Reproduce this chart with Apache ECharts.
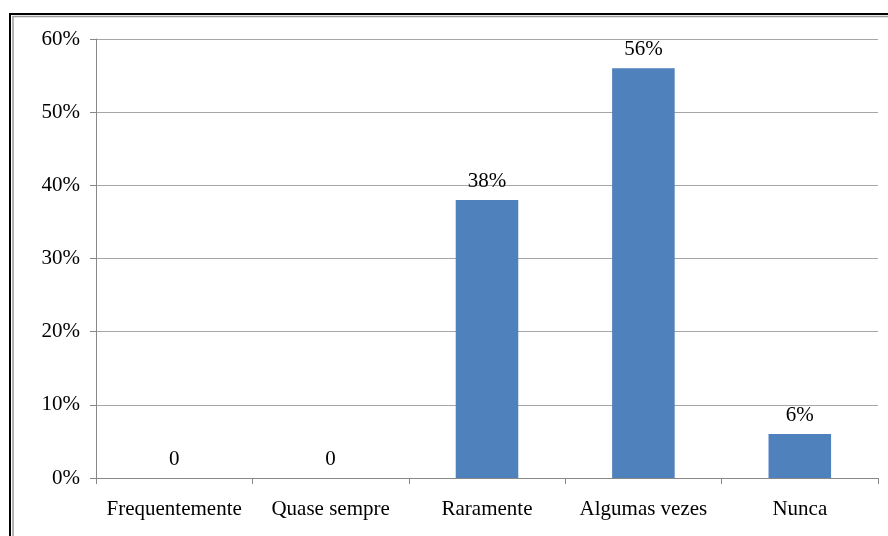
<!DOCTYPE html>
<html>
<head>
<meta charset="utf-8">
<script src="https://cdn.jsdelivr.net/npm/echarts@6/dist/echarts.min.js"></script>
<style>
  html, body { margin: 0; padding: 0; background: #fff; }
  #chart { width: 888px; height: 536px; }
</style>
</head>
<body>
<div id="chart"></div>
<script>
// Response categories and their share (%)
var categories = ['Frequentemente', 'Quase sempre', 'Raramente', 'Algumas vezes', 'Nunca'];
var percentages = [0, 0, 38, 56, 6];
var yTicks = [0, 10, 20, 30, 40, 50, 60];

var font = '"Liberation Serif", "Times New Roman", serif';
var chart = echarts.init(document.getElementById('chart'));

chart.setOption({
  animation: false,
  backgroundColor: '#ffffff',
  grid: { left: 96, right: 10, top: 39, bottom: 58 },
  graphic: [
    // outer frame: dark edge with a grey inner edge
    { type: 'rect', shape: { x: 10, y: 14, width: 900, height: 560 },
      style: { fill: 'none', stroke: '#000', lineWidth: 2 }, z: 10 },
    { type: 'rect', shape: { x: 13, y: 16.5, width: 900, height: 560 },
      style: { fill: 'none', stroke: '#9a9a9a', lineWidth: 1.5 }, z: 10 }
  ],
  xAxis: {
    type: 'category',
    data: categories,
    axisLine: { lineStyle: { color: '#888', width: 1 } },
    axisTick: { show: true, alignWithLabel: false, length: 6, lineStyle: { color: '#888' } },
    axisLabel: { color: '#000', fontFamily: font, fontSize: 21, margin: 21, interval: 0 }
  },
  yAxis: {
    type: 'value',
    min: yTicks[0],
    max: yTicks[yTicks.length - 1],
    interval: 10,
    axisLine: { show: true, lineStyle: { color: '#888', width: 1 } },
    axisTick: { show: true, length: 6, lineStyle: { color: '#888' } },
    axisLabel: { color: '#000', fontFamily: font, fontSize: 21, margin: 16,
      formatter: function (v) { return v + '%'; } },
    splitLine: { lineStyle: { color: '#a6a6a6', width: 1 } }
  },
  series: [{
    type: 'bar',
    data: percentages,
    barWidth: '40%',
    itemStyle: { color: '#4F81BD' },
    label: {
      show: true,
      position: 'top',
      distance: 8,
      color: '#000',
      fontFamily: font,
      fontSize: 21,
      formatter: function (p) { return p.value === 0 ? '0' : p.value + '%'; }
    }
  }]
});
</script>
</body>
</html>
